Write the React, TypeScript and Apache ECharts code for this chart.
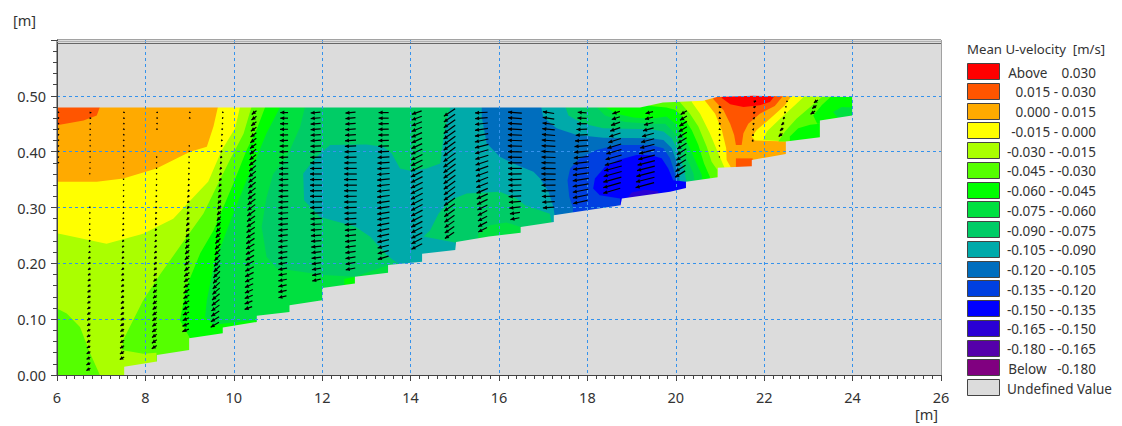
import React, { useEffect, useRef } from "react";
import * as echarts from "echarts";

const FONT = "'Noto Sans', sans-serif";
const xTickStep = 2;
const yTickStep = 0.1;

const legendLabels = [
  "Above\u00A0\u00A0\u00A0\u00A00.030", "0.015 - 0.030", "0.000 - 0.015", "-0.015 - 0.000", "-0.030 - -0.015", "-0.045 - -0.030",
  "-0.060 - -0.045", "-0.075 - -0.060", "-0.090 - -0.075", "-0.105 - -0.090", "-0.120 - -0.105", "-0.135 - -0.120",
  "-0.150 - -0.135", "-0.165 - -0.150", "-0.180 - -0.165", "Below\u00A0\u00A0\u00A0-0.180", "Undefined Value",
];
const bandColors = [
  "#ff0000", "#ff5500", "#ffaa00", "#ffff00", "#aaff00", "#55ff00", "#00ff00", "#00e040", "#00cc66",
  "#00aaaa", "#006ebe", "#0040e0", "#0000ff", "#2a00d5", "#5500aa", "#800080", "#dcdcdc",
];
const RED = 0, FF55 = 1, ORANGE = 2, YELLOW = 3, LIME = 4, G55 = 5, G00 = 6, E040 = 7, CC66 = 8, TEAL = 9, B70 = 10, B40 = 11, B00 = 12, DEEP = 13, UNDEF = 16;

const wholeSection = [[6, 0], [26, 0], [26, 0.6], [6, 0.6]];
const leftE040 = [[11.61, 0.6], [11.61, 0.48], [11.5, 0.444], [11.2, 0.391], [10.89, 0.36], [10.74, 0.318], [10.63, 0.265], [10.74, 0.212], [10.97, 0.191], [12.03, 0.179], [12.74, 0.176], [13.5, 0.197], [13.5, 0], [6, 0], [6, 0.6]];
const left00ff = [[11.05, 0.6], [11.05, 0.48], [10.74, 0.433], [10.52, 0.391], [10.29, 0.349], [9.99, 0.29], [9.76, 0.242], [9.54, 0.194], [9.39, 0.134], [9.35, 0.104], [9.54, 0.09], [9.99, 0.094], [10.52, 0.098], [10.52, 0], [6, 0], [6, 0.6]];
const left55ff = [[10.71, 0.6], [10.71, 0.48], [10.52, 0.44], [10.29, 0.403], [9.99, 0.343], [9.76, 0.3], [9.54, 0.259], [9.24, 0.218], [8.93, 0.158], [8.78, 0.098], [9.01, 0.066], [9.01, 0], [6, 0], [6, 0.6]];
const leftLime = [[10.4, 0.6], [10.4, 0.48], [10.22, 0.432], [9.91, 0.385], [9.61, 0.337], [9.31, 0.289], [8.78, 0.23], [8.33, 0.18], [7.95, 0.134], [7.5, 0.063], [7.46, 0.045], [7.95, 0.038], [8.25, 0.04], [8.25, 0], [6, 0], [6, 0.6]];
const cornerG55 = [[6, 0.119], [6.22, 0.11], [6.52, 0.086], [6.75, 0.039], [6.97, 0], [6, 0]];
const leftYellow = [[10.14, 0.6], [10.14, 0.48], [10.03, 0.442], [9.73, 0.403], [9.42, 0.346], [9.31, 0.337], [8.63, 0.28], [7.95, 0.253], [7.12, 0.235], [6, 0.254], [6, 0.6]];
const leftOrange = [[9.64, 0.6], [9.64, 0.48], [9.54, 0.445], [9.39, 0.409], [9.01, 0.4], [8.25, 0.37], [7.5, 0.352], [6.9, 0.346], [6, 0.346], [6, 0.6]];
const leftFf55 = [[6.97, 0.6], [6.97, 0.48], [6.9, 0.465], [6.6, 0.456], [6, 0.4475], [6, 0.6]];
const bedPatch00ff = [[12.5, 0.13], [12.5, 0.172], [12.74, 0.176], [12.74, 0.13]];

const midTeal = [[14.93, 0.49], [14.82, 0.456], [14.74, 0.421], [14.67, 0.379], [14.36, 0.37], [13.99, 0.366], [13.76, 0.37], [13.57, 0.397], [13.38, 0.409], [13.0, 0.413], [12.18, 0.412], [11.87, 0.391], [11.57, 0.361], [11.59, 0.313], [11.95, 0.283], [12.74, 0.266], [13.08, 0.248], [13.46, 0.215], [13.72, 0.199], [13.72, 0.15], [20.25, 0.15], [20.25, 0.343], [20.17, 0.373], [20.06, 0.4], [19.91, 0.424], [19.72, 0.436], [19.42, 0.44], [18.36, 0.442], [17.91, 0.45], [17.57, 0.465], [17.46, 0.49]];
const lobeCc66 = [[14.29, 0.248], [14.44, 0.259], [14.63, 0.289], [14.89, 0.313], [15.27, 0.325], [16.02, 0.328], [16.4, 0.316], [16.59, 0.304], [17.15, 0.289], [17.25, 0.25], [15.03, 0.2], [15.03, 0.237]];
const patchE040 = [[15.53, 0.253], [15.8, 0.268], [16.17, 0.273], [16.49, 0.265], [16.49, 0.24], [15.53, 0.24]];
const blue70 = [[15.61, 0.49], [15.61, 0.462], [15.72, 0.415], [16.02, 0.391], [16.4, 0.376], [16.78, 0.364], [16.93, 0.352], [17.12, 0.328], [17.23, 0.301], [17.27, 0.28], [17.27, 0.25], [20.1, 0.25], [20.1, 0.343], [20.02, 0.382], [19.91, 0.406], [19.72, 0.421], [19.42, 0.424], [18.36, 0.425], [17.76, 0.43], [17.3, 0.442], [17.0, 0.462], [16.93, 0.49]];
const blue40 = [[17.55, 0.349], [17.61, 0.37], [17.83, 0.388], [18.21, 0.403], [18.66, 0.412], [19.42, 0.412], [19.72, 0.406], [19.87, 0.388], [19.98, 0.361], [20.02, 0.337], [20.02, 0.25], [17.7, 0.25], [17.67, 0.301], [17.59, 0.319]];
const blue00 = [[18.13, 0.334], [18.17, 0.352], [18.4, 0.373], [18.7, 0.385], [19.11, 0.394], [19.42, 0.394], [19.68, 0.388], [19.83, 0.37], [19.94, 0.349], [20.23, 0.346], [20.3, 0.3], [18.74, 0.3], [18.74, 0.316], [18.28, 0.322]];
const deepPatch = [[18.85, 0.31], [19.0, 0.327], [19.3, 0.332], [19.6, 0.329], [19.6, 0.31]];

const rightE040 = [[18.21, 0.6], [18.21, 0.48], [18.4, 0.465], [18.85, 0.453], [19.42, 0.45], [19.76, 0.45], [19.94, 0.436], [20.1, 0.415], [20.25, 0.388], [20.4, 0.361], [20.43, 0.343], [20.43, 0.3], [26, 0.3], [26, 0.6]];
const right00ff = [[18.4, 0.6], [18.4, 0.48], [18.66, 0.468], [19.04, 0.461], [19.42, 0.459], [19.79, 0.463], [19.98, 0.451], [20.17, 0.43], [20.32, 0.406], [20.47, 0.379], [20.59, 0.358], [20.59, 0.3], [26, 0.3], [26, 0.6]];
const right55ff = [[19.19, 0.6], [19.19, 0.49], [19.42, 0.482], [19.79, 0.479], [19.98, 0.475], [20.17, 0.462], [20.36, 0.439], [20.51, 0.412], [20.64, 0.379], [20.77, 0.355], [20.77, 0.3], [26, 0.3], [26, 0.6]];
const rightLime = [[20.1, 0.6], [20.1, 0.488], [20.32, 0.468], [20.51, 0.445], [20.7, 0.409], [20.81, 0.382], [20.94, 0.367], [20.94, 0.3], [26, 0.3], [26, 0.6]];
const rightYellow = [[20.36, 0.6], [20.36, 0.489], [20.55, 0.468], [20.77, 0.433], [20.96, 0.397], [21.11, 0.37], [21.11, 0.3], [26, 0.3], [26, 0.6]];
const rightOrange = [[20.66, 0.6], [20.66, 0.491], [20.89, 0.468], [21.04, 0.439], [21.14, 0.406], [21.15, 0.385], [21.26, 0.37], [21.26, 0.3], [26, 0.3], [26, 0.6]];
const peakFf55 = [[20.85, 0.6], [20.85, 0.494], [21.08, 0.474], [21.23, 0.45], [21.32, 0.43], [21.36, 0.412], [21.49, 0.412], [21.53, 0.433], [21.64, 0.45], [21.9, 0.468], [22.24, 0.482], [22.43, 0.5], [22.43, 0.6]];
const shelfFf55 = [[21.36, 0.388], [21.74, 0.388], [21.74, 0.36], [21.36, 0.36]];
const peakRed = [[21.04, 0.52], [21.04, 0.496], [21.23, 0.485], [21.53, 0.48], [21.9, 0.483], [22.13, 0.489], [22.24, 0.5], [22.24, 0.52]];
const farYellow = [[22.62, 0.6], [22.62, 0.5], [22.47, 0.483], [22.13, 0.459], [21.83, 0.439], [21.72, 0.427], [21.79, 0.42], [22.51, 0.418], [26, 0.418], [26, 0.6]];
const farLime = [[22.92, 0.6], [22.92, 0.5], [22.73, 0.486], [22.36, 0.459], [22.06, 0.436], [21.98, 0.421], [22.51, 0.418], [26, 0.418], [26, 0.6]];
const far55ff = [[23.34, 0.6], [23.34, 0.5], [23.04, 0.48], [22.73, 0.459], [22.47, 0.436], [22.32, 0.418], [26, 0.418], [26, 0.6]];
const far00ff = [[23.53, 0.6], [23.53, 0.5], [23.3, 0.483], [23.11, 0.465], [23.2, 0.45], [26, 0.45], [26, 0.6]];
const blob00ff = [[22.58, 0.427], [22.77, 0.442], [23.04, 0.448], [23.26, 0.45], [23.26, 0.42], [22.58, 0.41]];
const endE040 = [[23.56, 0.471], [23.75, 0.48], [24.0, 0.479], [24.0, 0.46], [23.68, 0.459]];

const riverBed = [[7.52, 0], [7.52, 0.015], [8.26, 0.024], [8.26, 0.036], [8.99, 0.045], [8.99, 0.066], [9.75, 0.075], [9.75, 0.085], [10.52, 0.095], [10.52, 0.106], [11.26, 0.113], [11.26, 0.125], [12.0, 0.134], [12.0, 0.156], [12.74, 0.164], [12.74, 0.176], [13.49, 0.183], [13.49, 0.197], [14.26, 0.203], [14.26, 0.217], [15.01, 0.224], [15.03, 0.238], [15.77, 0.248], [16.49, 0.255], [16.49, 0.265], [17.24, 0.274], [17.24, 0.286], [18.75, 0.304], [18.78, 0.316], [19.87, 0.328], [20.23, 0.335], [20.23, 0.346], [20.95, 0.354], [20.95, 0.371], [21.72, 0.374], [21.72, 0.385], [22.49, 0.396], [22.49, 0.418], [23.26, 0.426], [23.26, 0.456], [23.99, 0.465], [23.99, 0.498]];
const waterSurface = [[23.97, 0.498], [21.75, 0.5], [20.93, 0.498], [20.62, 0.491], [19.71, 0.488], [19.19, 0.479], [6, 0.479]];
const outsideSection = [[6, 0.6], [26, 0.6], [26, 0], ...riverBed, ...waterSurface];

const regionBands = [CC66, E040, G00, G55, LIME, G55, YELLOW, ORANGE, FF55, G00, TEAL, CC66, E040, B70, B40, B00, DEEP, E040, G00, G55, LIME, YELLOW, ORANGE, FF55, FF55, RED, YELLOW, LIME, G55, G00, G00, E040, UNDEF];
const regionShapes = [wholeSection, leftE040, left00ff, left55ff, leftLime, cornerG55, leftYellow, leftOrange, leftFf55, bedPatch00ff, midTeal, lobeCc66, patchE040, blue70, blue40, blue00, deepPatch, rightE040, right00ff, right55ff, rightLime, rightYellow, rightOrange, peakFf55, shelfFf55, peakRed, farYellow, farLime, far55ff, far00ff, blob00ff, endE040, outsideSection];

// measurement depth of each row of arrows [m]
const rowY = [0.49, 0.48, 0.47, 0.46, 0.45, 0.44, 0.43, 0.42, 0.41, 0.4, 0.39, 0.38, 0.37, 0.36, 0.35, 0.34, 0.33, 0.32, 0.31, 0.3, 0.29, 0.28, 0.27, 0.26, 0.25, 0.24, 0.23, 0.22, 0.21, 0.2, 0.19, 0.18, 0.17, 0.16, 0.15, 0.14, 0.13, 0.12, 0.11, 0.1, 0.09, 0.08, 0.07, 0.06, 0.05, 0.04, 0.03, 0.02, 0.01];
// transects: x at the surface, x at the deepest bin, first row
const transectTopX = [6.03, 6.76, 7.52, 8.27, 9.01, 9.75, 10.46, 11.14, 11.85, 12.64, 13.39, 14.14, 14.88, 15.6, 16.36, 17.12, 17.88, 18.65, 19.4, 20.18, 21.0, 21.79, 22.52, 23.17];
const transectEndX = [6.03, 6.71, 7.47, 8.2, 8.91, 9.57, 10.33, 11.1, 11.87, 12.64, 13.38, 14.14, 14.88, 15.63, 16.36, 17.12, 17.84, 18.55, 19.3, 20.1, 20.99, 21.74, 22.37, 23.1];
const transectFirstRow = [2, 2, 2, 2, 2, 2, 2, 2, 2, 2, 2, 2, 2, 2, 2, 2, 2, 2, 2, 2, 1, 0, 0, 0];
// mean velocity components per bin, mm/s
const meanU = [
  [-4, -5, -4, -3, -4, -3, -3, -2, -2, -3],
  [12, 10, 8, 8, 6, 4, 3, 2, 2, 2, 2, 3, 0, 0, 0, 0, 0, -3, -3, -4, -4, -5, -6, -8, -10, -14, -16, -18, -20, -20, -22, -22, -24, -25, -24, -24, -26, -26, -26, -26, -28, -28, -28, -30, -30, -32, -32],
  [8, 8, 7, 7, 6, 6, 5, 5, 4, 3, 3, 2, 1, -1, -2, -3, -4, -5, -6, -7, -8, -9, -11, -13, -15, -16, -17, -18, -19, -20, -21, -22, -23, -24, -25, -26, -27, -28, -29, -30, -31, -32, -33, -34, -35],
  [6, 6, 5, 5, 0, 0, 0, 0, 2, 2, 1, -1, -2, -3, -4, -5, -6, -7, -8, -9, -10, -12, -14, -15, -17, -18, -19, -20, -22, -24, -26, -28, -30, -31, -32, -33, -34, -35, -36, -37, -38, -39, -40],
  [6, 6, 0, 0, 0, 0, 2, 2, 1, -1, -3, -5, -8, -10, -12, -13, -15, -17, -19, -21, -24, -26, -28, -30, -32, -34, -36, -38, -40, -42, -44, -45, -46, -47, -48, -49, -50, -50, -52, -52],
  [-4, -4, -4, -5, -6, -7, -8, -9, -10, -12, -14, -16, -18, -20, -22, -24, -26, -28, -30, -32, -34, -36, -38, -40, -42, -44, -46, -48, -50, -52, -54, -56, -58, -60, -62, -64, -64, -66, -66],
  [-38, -40, -42, -44, -46, -48, -50, -50, -52, -54, -54, -56, -58, -58, -60, -60, -62, -62, -64, -64, -65, -66, -66, -66, -67, -67, -67, -68, -68, -68, -66, -66, -64, -64, -62, -60],
  [-62, -62, -64, -64, -66, -66, -68, -68, -70, -72, -74, -74, -76, -76, -76, -78, -78, -78, -78, -78, -76, -76, -76, -74, -74, -72, -72, -70, -70, -68, -68, -66, -66, -64],
  [-78, -78, -80, -80, -82, -82, -84, -86, -88, -90, -92, -94, -94, -96, -96, -96, -96, -94, -92, -90, -88, -86, -84, -82, -80, -78, -76, -74, -72, -70, -68],
  [-80, -80, -82, -84, -86, -88, -90, -94, -96, -98, -100, -100, -102, -102, -102, -100, -100, -98, -96, -94, -92, -90, -88, -86, -84, -82, -80, -78, -76],
  [-80, -80, -82, -82, -84, -84, -86, -90, -94, -96, -98, -98, -100, -100, -100, -100, -100, -98, -98, -96, -96, -94, -94, -92, -90, -88, -86],
  [-78, -80, -82, -82, -84, -84, -86, -88, -90, -90, -92, -92, -92, -94, -94, -94, -94, -92, -92, -90, -90, -88, -88, -86, -86],
  [-90, -90, -92, -92, -94, -94, -94, -94, -96, -96, -96, -94, -94, -92, -90, -90, -88, -86, -84, -80, -78, -76, -74],
  [-100, -100, -102, -104, -106, -108, -108, -106, -104, -102, -100, -98, -96, -94, -90, -88, -84, -80, -76, -74, -72, -70],
  [-110, -110, -112, -112, -112, -114, -114, -112, -112, -110, -110, -108, -106, -104, -102, -100, -96, -90, -80, -72],
  [-90, -92, -96, -100, -106, -108, -110, -112, -112, -112, -114, -114, -112, -112, -110, -106, -100, -90],
  [-70, -74, -80, -85, -95, -105, -110, -114, -118, -122, -126, -128, -128, -126, -124, -120, -115],
  [-60, -65, -72, -80, -90, -100, -110, -120, -128, -136, -140, -144, -144, -140, -136],
  [-60, -65, -75, -85, -95, -105, -115, -125, -132, -138, -142, -146, -148, -148],
  [-50, -55, -60, -65, -70, -72, -74, -76, -78, -80, -80, -80],
  [20, 18, 16, 14, 12, 10, 6, 4, 3, 2],
  [18, 18, 16, 12, 8, 6, 5, 4],
  [8, 4, -4, -12, -20, -26, -30],
  [-32, -34, -36],
];
const meanV = [
  [-8, -8, -7, -8, -7, -6, -7, -8, -7, -8],
  [0, 0, 0, -2, -2, -3, -4, -4, -4, -4, -4, -3, 0, 0, 0, 0, 0, -6, -6, -6, -7, -7, -8, -8, -9, -10, -10, -12, -12, -13, -13, -14, -14, -15, -15, -15, -16, -16, -16, -15, -15, -16, -16, -17, -16, -18, -18],
  [-4, -4, -4, -5, -5, -5, -5, -6, -6, -6, -6, -6, -7, -7, -7, -8, -8, -8, -8, -9, -9, -10, -10, -11, -11, -12, -12, -12, -13, -13, -14, -14, -15, -15, -16, -16, -17, -17, -18, -18, -18, -19, -20, -20, -20],
  [-5, -5, -5, -5, 0, 0, 0, 0, -6, -6, -6, -7, -7, -8, -8, -9, -10, -10, -11, -12, -12, -13, -14, -14, -15, -16, -17, -18, -19, -20, -21, -22, -23, -23, -24, -24, -25, -25, -26, -26, -26, -27, -27],
  [-5, -5, 0, 0, 0, 0, -6, -6, -7, -7, -8, -9, -10, -12, -14, -15, -16, -18, -20, -22, -24, -26, -28, -30, -30, -30, -32, -32, -32, -32, -30, -30, -30, -28, -28, -26, -24, -22, -22, -20],
  [-8, -8, -8, -8, -8, -9, -10, -11, -12, -13, -15, -16, -18, -20, -22, -24, -26, -28, -30, -32, -34, -36, -38, -40, -42, -44, -46, -48, -50, -52, -52, -52, -50, -50, -48, -46, -42, -40, -40],
  [-30, -30, -32, -32, -34, -36, -38, -40, -42, -44, -45, -46, -46, -46, -46, -46, -46, -46, -45, -44, -44, -42, -42, -42, -40, -38, -38, -36, -36, -34, -32, -30, -28, -26, -24, -22],
  [0, 0, 0, -1, -1, -2, -2, -2, -2, -2, -3, -3, -3, -3, -3, -4, -4, -5, -5, -6, -6, -7, -8, -8, -9, -10, -10, -11, -12, -12, -13, -14, -15, -15],
  [-7, -7, -6, -6, -5, -5, -4, -3, -2, -2, -1, 0, 0, 0, 0, 0, -1, -2, -3, -4, -4, -5, -6, -7, -8, -10, -11, -12, -13, -14, -15],
  [-8, -8, -7, -7, -6, -5, -4, -3, -2, -1, 0, 0, 0, 0, 0, -1, -2, -3, -4, -5, -6, -8, -9, -10, -11, -12, -13, -14, -15],
  [0, 0, -1, -2, -2, -3, -3, -4, -5, -6, -7, -8, -10, -11, -12, -13, -14, -15, -16, -17, -18, -19, -20, -21, -22, -24, -25],
  [-28, -30, -32, -34, -36, -38, -40, -42, -44, -45, -46, -46, -47, -47, -48, -48, -48, -48, -47, -47, -46, -46, -45, -44, -44],
  [-60, -62, -64, -66, -66, -68, -68, -70, -70, -70, -70, -68, -68, -66, -66, -64, -62, -60, -58, -56, -54, -52, -50],
  [-5, -8, -12, -16, -20, -24, -28, -30, -32, -34, -36, -36, -38, -38, -38, -40, -40, -40, -40, -38, -38, -36],
  [8, 8, 7, 6, 5, 4, 3, 2, 1, 0, 0, -1, -2, -3, -4, -6, -8, -10, -12, -15],
  [15, 14, 12, 10, 9, 8, 6, 5, 4, 3, 2, 1, 0, -1, -2, -3, -5, -6],
  [5, 3, 0, -3, -5, -6, -8, -10, -12, -14, -16, -18, -20, -22, -24, -25, -25],
  [-20, -22, -25, -28, -30, -32, -34, -35, -36, -38, -38, -40, -40, -40, -40],
  [-15, -18, -20, -24, -26, -28, -30, -32, -34, -36, -36, -38, -38, -40],
  [-30, -35, -38, -40, -42, -44, -46, -48, -48, -50, -50, -50],
  [-6, -6, -5, -5, -5, -4, -4, -4, -3, -3],
  [8, 8, 10, 12, 12, 12, 14, 14],
  [0, -6, -12, -15, -20, -22, -24, -25],
  [-22, -24, -26],
];

const arrowX: number[] = [];
const arrowY: number[] = [];
const arrowU: number[] = [];
const arrowV: number[] = [];
transectTopX.forEach((topX, c) => {
  const n = meanU[c].length;
  meanU[c].forEach((u, i) => {
    const v = meanV[c][i];
    if (u === 0 && v === 0) return;
    arrowX.push(topX + ((transectEndX[c] - topX) * i) / Math.max(n - 1, 1));
    arrowY.push(rowY[transectFirstRow[c] + i]);
    arrowU.push(u);
    arrowV.push(v);
  });
});

const PX_PER_MM_S = 0.125;

export default function App() {
  const ref = useRef<HTMLDivElement>(null);
  useEffect(() => {
    document.body.style.margin = "0";
    const chart = echarts.init(ref.current!, undefined, { renderer: "svg" });
    const axisCommon = {
      z: 3,
      axisLine: { show: true, lineStyle: { color: "#444", width: 1 } },
      axisTick: { show: true, inside: false, length: 6, lineStyle: { color: "#444" } },
      minorTick: { show: true, length: 4, lineStyle: { color: "#444" } },
      splitLine: { show: true, showMinLine: false, showMaxLine: false, lineStyle: { color: "#3592ec", type: [3, 3] as any, width: 1 } },
    };
    const legendItems: any[] = [];
    legendLabels.forEach((label, i) => {
      const cy = 71.7 + i * 19.75;
      legendItems.push({
        type: "rect", shape: { x: 967.5, y: Math.round(cy - 8.5) + 0.5, width: 32, height: 16 },
        style: { fill: bandColors[i], stroke: "#444", lineWidth: 1 },
      });
      const left = i === legendLabels.length - 1;
      legendItems.push({
        type: "text", x: left ? 1007 : 1096, y: cy + 1,
        style: { text: label, fill: "#333", font: "13.5px " + FONT, textAlign: left ? "left" : "right", textVerticalAlign: "middle" },
      });
    });
    chart.setOption({
      animation: false,
      backgroundColor: "#ffffff",
      grid: { left: 57, top: 40, right: 181, bottom: 51, show: true, backgroundColor: "#dcdcdc", borderColor: "#444", borderWidth: 1 },
      xAxis: {
        ...axisCommon, type: "value", min: 6, max: 26, interval: xTickStep,
        minorTick: { ...axisCommon.minorTick, splitNumber: 10 },
        axisLabel: { color: "#333", fontFamily: FONT, fontSize: 14.5, margin: 14 },
      },
      yAxis: {
        ...axisCommon, type: "value", min: 0, max: 0.6, interval: yTickStep,
        minorTick: { ...axisCommon.minorTick, splitNumber: 5 },
        axisLabel: { color: "#333", fontFamily: FONT, fontSize: 14.5, margin: 11, showMaxLabel: false, formatter: (v: number) => v.toFixed(2) },
      },
      graphic: [
        { type: "line", shape: { x1: 57, y1: 41.5, x2: 941, y2: 41.5 }, style: { stroke: "#b0b0b0", lineWidth: 1 }, z: 10 },
        { type: "line", shape: { x1: 57, y1: 43.5, x2: 941, y2: 43.5 }, style: { stroke: "#666", lineWidth: 1 }, z: 10 },
        { type: "text", x: 13, y: 20, style: { text: "[m]", fill: "#333", font: "14.5px " + FONT, textVerticalAlign: "middle" } },
        { type: "text", x: 915, y: 414, style: { text: "[m]", fill: "#333", font: "14.5px " + FONT, textVerticalAlign: "middle" } },
        { type: "text", x: 967, y: 49, style: { text: "Mean U-velocity  [m/s]", fill: "#333", font: "13.2px " + FONT, textVerticalAlign: "middle" } },
        ...legendItems,
      ],
      series: [
        {
          type: "custom", z: 2, silent: true, clip: false,
          data: regionShapes.map((_, i) => [i]),
          renderItem: (_p: any, api: any) => {
            const i = api.value(0);
            return {
              type: "polygon",
              shape: { points: regionShapes[i].map((pt: number[]) => api.coord(pt)) },
              style: { fill: bandColors[regionBands[i]] },
            };
          },
        },
        {
          type: "custom", z: 5, silent: true, clip: false,
          encode: { x: 0, y: 1 },
          data: arrowX.map((x, i) => [x, arrowY[i]]),
          renderItem: (p: any, api: any) => {
            const i = p.dataIndex;
            const [cx, cy] = api.coord([arrowX[i], arrowY[i]]);
            const dx = arrowU[i] * PX_PER_MM_S;
            const dy = -arrowV[i] * PX_PER_MM_S;
            const len = Math.hypot(dx, dy) || 1;
            const ux = dx / len, uy = dy / len;
            const hx = cx + dx / 2, hy = cy + dy / 2;
            const hl = Math.min(4, 0.9 + len * 0.5), hw = Math.min(2, 0.7 + len * 0.25);
            return {
              type: "group",
              children: [
                { type: "line", shape: { x1: cx - dx / 2, y1: cy - dy / 2, x2: hx, y2: hy }, style: { stroke: "#000", lineWidth: 1.2 } },
                {
                  type: "polygon",
                  shape: { points: [[hx, hy], [hx - ux * hl - uy * hw, hy - uy * hl + ux * hw], [hx - ux * hl + uy * hw, hy - uy * hl - ux * hw]] },
                  style: { fill: "#000" },
                },
              ],
            };
          },
        },
      ],
    });
    return () => chart.dispose();
  }, []);
  return <div ref={ref} style={{ width: 1122, height: 426 }} />;
}
